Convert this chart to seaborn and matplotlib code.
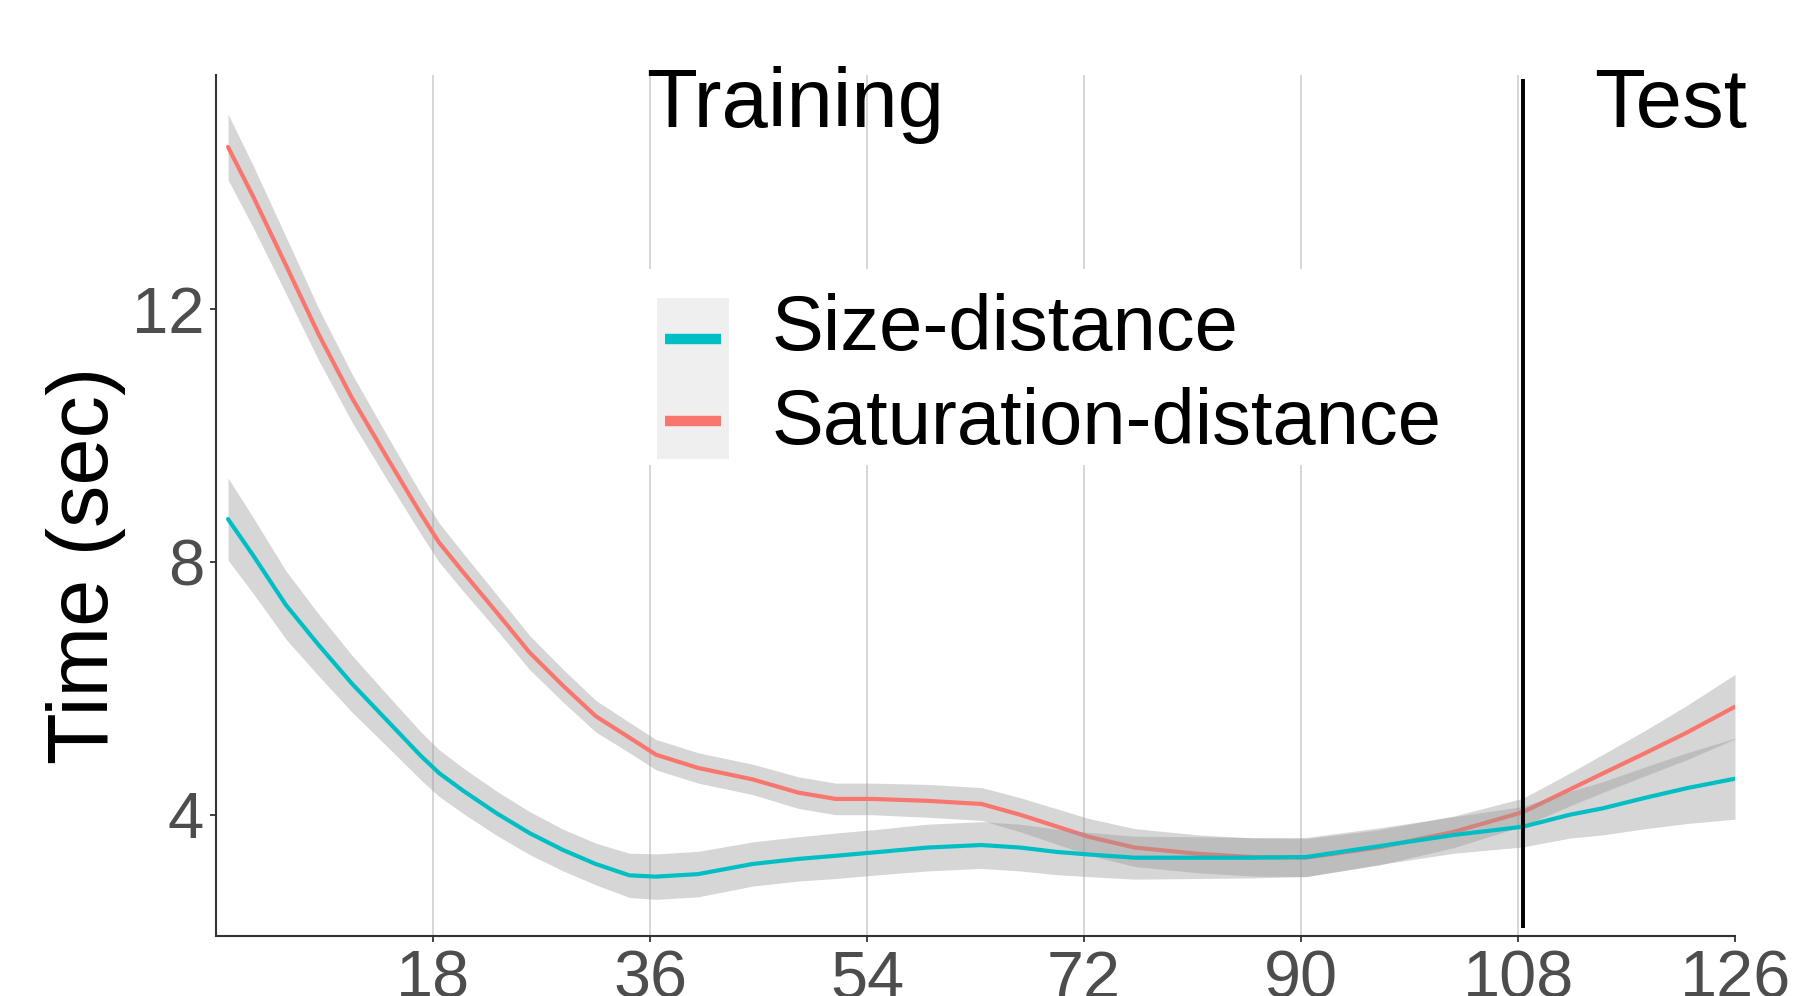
import numpy as np
import pandas as pd
import matplotlib
matplotlib.use("Agg")
import matplotlib.pyplot as plt
import seaborn as sns
from matplotlib.legend_handler import HandlerBase
from matplotlib.patches import Rectangle
from matplotlib.lines import Line2D
from matplotlib.path import Path

# Smoothed completion time per trial (seconds) with confidence half-widths
trial = [1, 3.1, 5.8, 8.5, 11.3, 14.2, 17, 18.5, 20.5, 23.3, 26, 28.8, 31.5,
         34.3, 36.5, 40, 44.5, 48.3, 51.4, 54.4, 59, 63.5, 66.7, 69.8, 72.4,
         76.2, 81.5, 86, 90.4, 96.4, 102.7, 108.4, 112.3, 115, 118.6, 122, 126]
sat_time = [14.57, 13.78, 12.70, 11.61, 10.59, 9.65, 8.76, 8.31, 7.84, 7.20,
            6.57, 6.04, 5.56, 5.22, 4.95, 4.74, 4.56, 4.35, 4.25, 4.25, 4.22,
            4.17, 4.0, 3.81, 3.65, 3.48, 3.38, 3.33, 3.32, 3.48, 3.73, 4.04,
            4.4, 4.65, 4.98, 5.3, 5.71]
sat_ci = [.52, .49, .45, .41, .38, .35, .32, .31, .30, .28, .27, .26, .25, .24,
          .24, .24, .24, .25, .25, .25, .26, .26, .27, .28, .29, .3, .3, .3, .3,
          .28, .25, .22, .26, .3, .36, .43, .51]
size_time = [8.68, 8.10, 7.32, 6.69, 6.07, 5.49, 4.93, 4.66, 4.38, 4.02, 3.71,
             3.44, 3.22, 3.04, 3.02, 3.06, 3.22, 3.3, 3.35, 3.40, 3.48, 3.52,
             3.48, 3.41, 3.37, 3.32, 3.32, 3.32, 3.33, 3.50, 3.68, 3.81, 4.0,
             4.1, 4.27, 4.42, 4.57]
size_ci = [.65, .60, .54, .49, .45, .41, .38, .37, .36, .35, .34, .33, .33, .35,
           .36, .36, .35, .35, .36, .36, .37, .37, .37, .36, .35, .34, .33, .32,
           .31, .29, .29, .32, .37, .42, .49, .56, .64]

conditions = ["Size-distance", "Saturation-distance"]
palette = {"Size-distance": "#00BFC4", "Saturation-distance": "#F8766D"}
x_ticks = [18, 36, 54, 72, 90, 108, 126]
y_ticks = [4, 8, 12]
split_trial = 108.4

df = pd.concat([
    pd.DataFrame({"trial": trial, "time": sat_time, "ci": sat_ci,
                  "condition": "Saturation-distance"}),
    pd.DataFrame({"trial": trial, "time": size_time, "ci": size_ci,
                  "condition": "Size-distance"}),
], ignore_index=True)

sns.set_theme(style="white")
plt.rcParams["font.family"] = ["Liberation Sans", "DejaVu Sans"]

W, H = 1794, 996
PX = 72 / 100  # points per pixel at dpi 100
fig = plt.figure(figsize=(W / 100, H / 100), dpi=100)
ax = fig.add_axes([216 / W, 60 / H, (1735 - 216) / W, (936 - 75) / H])

# ribbon + line per group, drawn in order so later ribbons tint earlier lines
z = 2
for cond in ["Saturation-distance", "Size-distance"]:
    d = df[df["condition"] == cond]
    ax.fill_between(d["trial"], d["time"] - d["ci"], d["time"] + d["ci"],
                    color="#999999", alpha=0.4, lw=0, zorder=z)
    sns.lineplot(data=d, x="trial", y="time", color=palette[cond], lw=3.0,
                 ax=ax, zorder=z + 1, errorbar=None)
    z += 2

ax.vlines(split_trial, 2.2, 15.65, color="black", lw=2.8, zorder=10)

ax.set_xlim(0, 126)
ax.set_ylim(2.08, 15.71)
ax.set_xticks(x_ticks)
ax.set_yticks(y_ticks)
ax.set_xticklabels([str(t) for t in x_ticks])
ax.set_yticklabels([str(t) for t in y_ticks])
ax.set_xlabel("")
ax.set_ylabel("Time (sec)", fontsize=61, color="black")
ax.yaxis.set_label_coords((126 - 216) / (1735 - 216), (936 - 565) / (936 - 75))

ax.set_axisbelow(True)
ax.xaxis.grid(True, color="#CCCCCC", lw=1.1)
ax.yaxis.grid(False)
ax.get_xgridlines()[-1].set_visible(False)

sns.despine(ax=ax)
for s in ["left", "bottom"]:
    ax.spines[s].set_color("#333333")
    ax.spines[s].set_linewidth(1.5)
ax.tick_params(axis="both", length=4.5, width=1.3, color="#333333",
               labelcolor="#4D4D4D", labelsize=47, direction="out")
ax.tick_params(axis="x", pad=5.5, labelsize=48, bottom=True)
ax.tick_params(axis="y", pad=4, left=True)

fig.text(646 / W, 1 - 127 / H, "Training", fontsize=60, color="black",
         ha="left", va="baseline")
fig.text(1594 / W, 1 - 127 / H, "Test", fontsize=60, color="black",
         ha="left", va="baseline")


class KeyHandler(HandlerBase):
    """Grey key background with a thick coloured stroke."""

    def __init__(self, top_ext, bot_ext, shift):
        super().__init__()
        self.top_ext, self.bot_ext, self.shift = top_ext, bot_ext, shift

    def create_artists(self, legend, orig_handle, xdescent, ydescent,
                       width, height, fontsize, trans):
        yc = -ydescent + height / 2
        bg = Rectangle((-xdescent, yc - self.bot_ext), width,
                       self.top_ext + self.bot_ext,
                       facecolor="#EFEFEF", edgecolor="none", transform=trans)
        inset = width * 0.11
        ys = yc + self.shift
        ln = Line2D([-xdescent + inset, -xdescent + width - inset], [ys, ys],
                    color=orig_handle.get_color(), lw=7.5,
                    solid_capstyle="butt", transform=trans)
        return [bg, ln]


def legend_box(x0, y0, width, height, mutation_size):
    # white legend background, taller above the entries than below
    top = 13
    left = 7
    return Path([(x0 - left, y0), (x0 + width, y0),
                 (x0 + width, y0 + height + top), (x0 - left, y0 + height + top),
                 (x0 - left, y0)], closed=True)


pitch = 94 * PX
half_box = 34.5 * PX
handles = [Line2D([], [], color=palette[c]) for c in conditions]
hmap = {
    handles[0]: KeyHandler(half_box - 9 * PX, pitch / 2 + 1, -16 * PX),
    handles[1]: KeyHandler(pitch / 2 + 1, half_box + 7 * PX, -3 * PX),
}
leg = ax.legend(handles, conditions, loc="upper left",
                bbox_to_anchor=(652 / W, 1 - 282 / H),
                bbox_transform=fig.transFigure, fontsize=56, frameon=True,
                facecolor="white", edgecolor="none", framealpha=1,
                borderpad=0.065, borderaxespad=0,
                handlelength=0.93, handleheight=1.05, handletextpad=0.54,
                labelspacing=0.205, handler_map=hmap)
leg.get_frame().set_boxstyle(legend_box)
leg.set_zorder(20)
for t in leg.get_texts():
    t.set_color("black")

fig.savefig("out.png", dpi=100)
